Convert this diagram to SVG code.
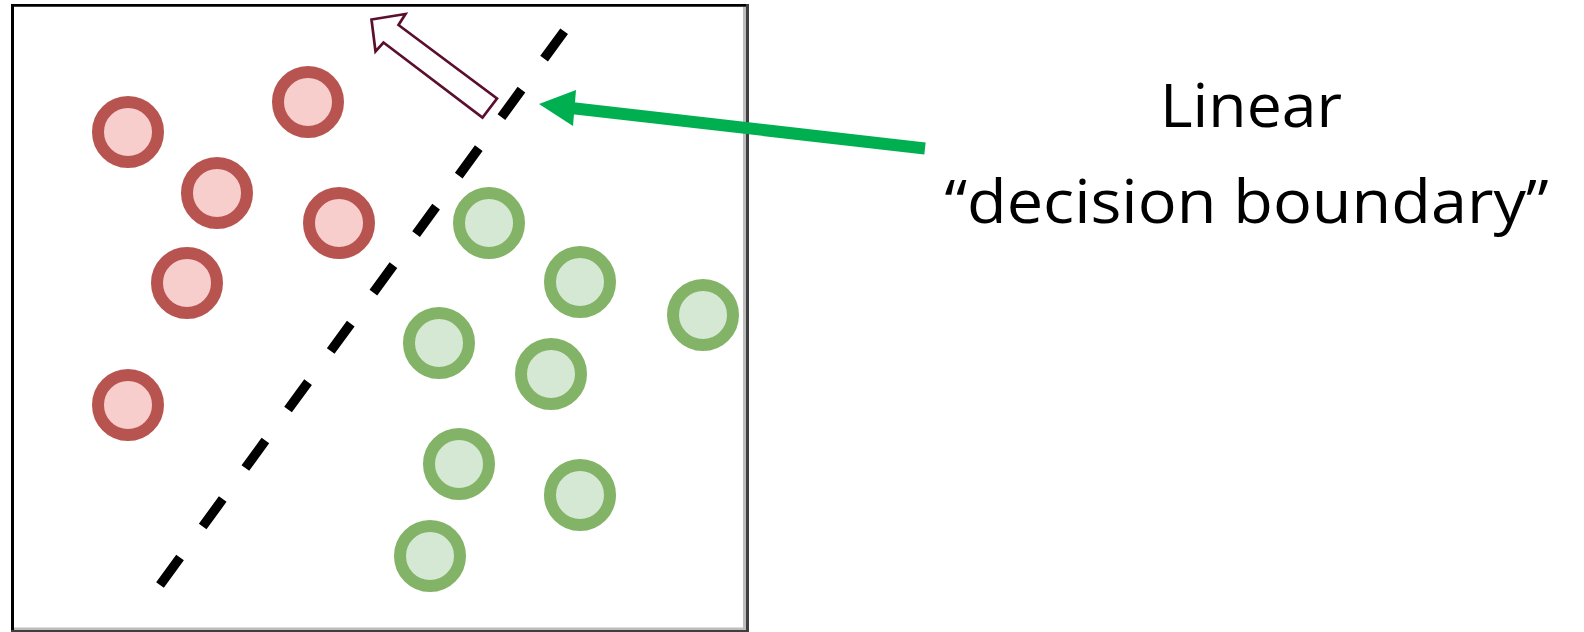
<svg xmlns="http://www.w3.org/2000/svg" width="1584" height="632" viewBox="0 0 1584 632">
  <style>
    .red { fill: #f8cecc; stroke: #b85450; stroke-width: 12; }
    .green { fill: #d5e8d4; stroke: #82b366; stroke-width: 12; }
    .label { font-family: "Open Sans", "Liberation Sans", sans-serif; font-size: 60px; fill: #000000; }
  </style>
  <rect x="0" y="0" width="1584" height="632" fill="#ffffff"/>

  <!-- plot frame -->
  <g id="frame">
    <rect x="12" y="5" width="734" height="624" fill="#ffffff"/>
    <line x1="12.5" y1="4" x2="12.5" y2="630" stroke="#000000" stroke-width="3"/>
    <line x1="11" y1="5.4" x2="746" y2="5.4" stroke="#000000" stroke-width="2.8"/>
    <line x1="744.5" y1="7" x2="744.5" y2="630" stroke="#bdbdbd" stroke-width="3"/>
    <line x1="747.5" y1="4" x2="747.5" y2="632" stroke="#3f3f3f" stroke-width="3"/>
    <line x1="14" y1="628.8" x2="746" y2="628.8" stroke="#bdbdbd" stroke-width="2.6"/>
    <line x1="11" y1="631" x2="749" y2="631" stroke="#3f3f3f" stroke-width="2"/>
  </g>

  <!-- class A samples -->
  <g id="class-red">
    <circle class="red" cx="128" cy="132" r="30"/>
    <circle class="red" cx="308" cy="102" r="30"/>
    <circle class="red" cx="217" cy="193" r="30"/>
    <circle class="red" cx="339" cy="223" r="30"/>
    <circle class="red" cx="187" cy="283" r="30"/>
    <circle class="red" cx="128" cy="405" r="30"/>
  </g>

  <!-- class B samples -->
  <g id="class-green">
    <circle class="green" cx="489" cy="223" r="30"/>
    <circle class="green" cx="580" cy="282" r="30"/>
    <circle class="green" cx="703" cy="315" r="30"/>
    <circle class="green" cx="439" cy="343" r="30"/>
    <circle class="green" cx="551" cy="374" r="30"/>
    <circle class="green" cx="459" cy="464" r="30"/>
    <circle class="green" cx="580" cy="495" r="30"/>
    <circle class="green" cx="430" cy="556" r="30"/>
  </g>

  <!-- separating line -->
  <g id="boundary">
    <line x1="160" y1="585" x2="565" y2="30" stroke="#000000" stroke-width="9.5" stroke-dasharray="34 38.4"/>
  </g>

  <!-- normal vector (hollow block arrow) -->
  <g id="normal-arrow">
    <polygon points="371.5,19.5 405.5,14 398.5,25 497,98.5 482.5,117.5 383.5,42.5 375.5,51.5" fill="#ffffff" stroke="#5a0f2e" stroke-width="2.7" stroke-linejoin="miter"/>
  </g>

  <!-- label -->
  <g id="label">
    <text class="label" x="1160" y="126.7" textLength="182" lengthAdjust="spacingAndGlyphs">Linear</text>
    <text class="label" x="944.5" y="223.3" textLength="604" lengthAdjust="spacingAndGlyphs">“decision boundary”</text>
  </g>

  <!-- pointer from label to the line -->
  <g id="connectors">
    <line x1="571" y1="108" x2="925" y2="148.5" stroke="#00b050" stroke-width="12"/>
    <polygon points="539,104 576,90 573,126" fill="#00b050"/>
  </g>
</svg>
